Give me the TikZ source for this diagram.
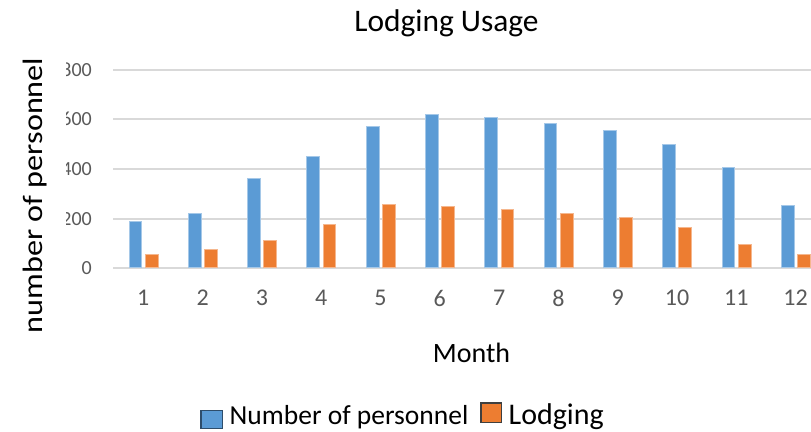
\documentclass[tikz,border=0pt]{standalone}
\usepackage{fontspec}
\setmainfont{Carlito}
\definecolor{barblue}{HTML}{5B9BD5}
\definecolor{barorange}{HTML}{ED7D31}
\definecolor{gridgray}{HTML}{D9D9D9}
\definecolor{ticktext}{HTML}{595959}
\definecolor{keyblueline}{HTML}{2E4D6B}
\definecolor{keyorangeline}{HTML}{3F3F3F}
\begin{document}
\begin{tikzpicture}[x=1pt,y=1pt,
  gridline/.style={gridgray, line width=1.8pt},
  bluebar/.style={fill=barblue, draw=barblue!55!white, line width=0.6pt},
  orangebar/.style={fill=barorange, draw=barorange!55!white, line width=0.6pt},
  ticklab/.style={text=ticktext, font=\fontsize{20}{24}\selectfont, inner sep=0pt},
  monthlab/.style={text=ticktext, font=\fontsize{24}{28}\selectfont, inner sep=0pt},
  bigtext/.style={font=\fontsize{#1}{#1}\selectfont, inner sep=0pt},
  bigtext/.default=28,
  keybox/.style={line width=1.3pt}]
\useasboundingbox (0,0) rectangle (811,431);

% value axis: gridlines and tick labels (0 at y=162.7, 0.2483pt per unit)
\foreach \v [count=\k] in {0,200,400,600,800} {
  \draw[gridline] (113,162.7+\v*0.2483) -- (811,162.7+\v*0.2483);
  \node[ticklab, anchor=east] (ytick\k) at (92,162.7+\v*0.2483) {\v};
}

% monthly bars: personnel / lodging
\foreach \b/\o [count=\i] in {190/56, 221/78, 361/114, 453/176, 573/258, 619/248,
                              609/239, 584/221, 557/205, 501/165, 407/98, 252/56} {
  \pgfmathsetmacro\c{143.3+59.3*(\i-1)}
  \filldraw[bluebar] (\c-14.5,163.6) rectangle (\c-1.7,162.7+\b*0.2483);
  \filldraw[orangebar] (\c+1.7,163.6) rectangle (\c+14.5,162.7+\o*0.2483);
  \node[monthlab] (month\i) at (\c,133) {\i};
}

% titles
\node[bigtext=31.4, anchor=base] (title) at (446.5,399) {Lodging Usage};
\node[bigtext=28, anchor=base] (xlabel) at (471.5,68.7) {Month};
\node[font=\fontsize{28}{28}\selectfont, rotate=90, xscale=1.15, anchor=base, fill=white,
      text depth=20pt, inner sep=3.5pt] (ylabel) at (42.5,235.5) {number of personnel};

% legend
\filldraw[keybox, fill=barblue, draw=keyblueline] (201,2.2) rectangle (222.5,20.3);
\node[bigtext=27.5, anchor=base west] (legpers) at (229.5,6.2) {Number of personnel};
\filldraw[keybox, fill=barorange, draw=keyorangeline] (481,8.3) rectangle (501.5,28);
\node[bigtext=30, anchor=base west] (leglodg) at (508.5,6.2) {Lodging};
\end{tikzpicture}
\end{document}
